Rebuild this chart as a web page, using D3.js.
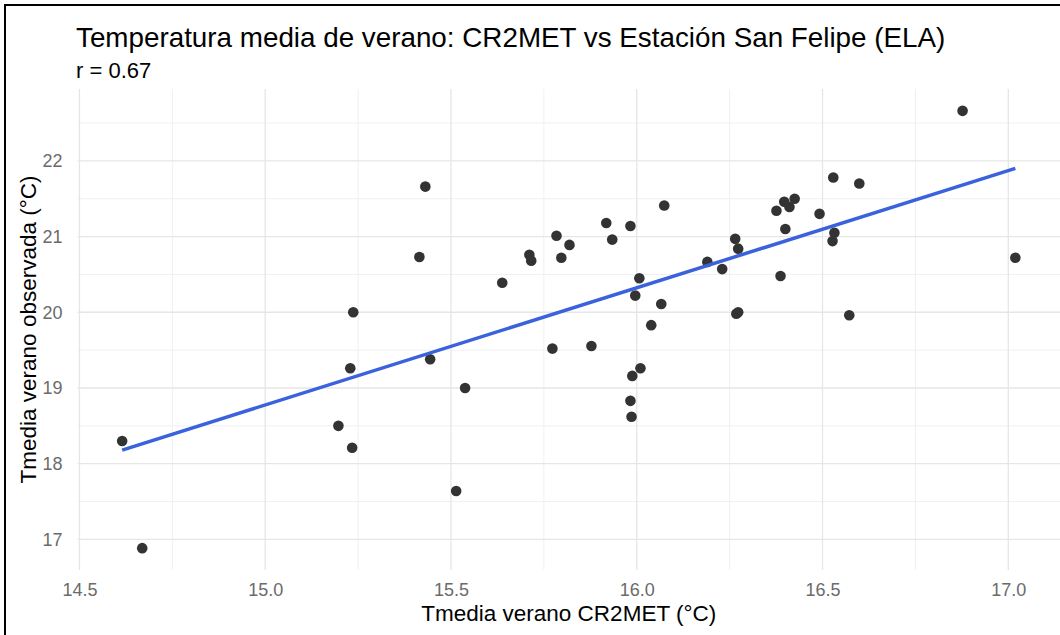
<!DOCTYPE html>
<html>
<head>
<meta charset="utf-8">
<script src="https://cdn.jsdelivr.net/npm/d3@7"></script>
<style>
  body { margin: 0; background: #fff; }
  svg { display: block; font-family: "Liberation Sans", Arial, sans-serif; }
</style>
</head>
<body>
<svg id="chart" width="1060" height="635"></svg>
<script>
// Tmedia verano CR2MET (x) vs observada (y)
const cr2met = [14.615, 14.669, 15.197, 15.229, 15.234, 15.237, 15.415, 15.431, 15.444, 15.514,
                15.538, 15.638, 15.711, 15.716, 15.773, 15.784, 15.797, 15.819, 15.878, 15.918,
                15.934, 15.983, 15.983, 15.986, 15.988, 15.996, 16.007, 16.010, 16.039, 16.066,
                16.074, 16.190, 16.230, 16.265, 16.273, 16.268, 16.273, 16.376, 16.387, 16.397,
                16.400, 16.411, 16.425, 16.492, 16.527, 16.529, 16.532, 16.572, 16.599, 16.877,
                17.019]
const observada = [18.30, 16.885, 18.50, 19.26, 18.21, 20.00, 20.73, 21.66, 19.38, 17.64,
                   19.00, 20.39, 20.76, 20.68, 19.52, 21.01, 20.72, 20.89, 19.555, 21.18,
                   20.96, 21.14, 18.83, 18.62, 19.16, 20.22, 20.45, 19.26, 19.83, 20.11,
                   21.41, 20.665, 20.57, 20.97, 20.84, 19.98, 20.00, 21.34, 20.48, 21.46,
                   21.10, 21.39, 21.50, 21.30, 20.94, 21.78, 21.05, 19.96, 21.70, 22.66,
                   20.72]
// geom_smooth(method = "lm") end points
const fitX = [14.615, 17.019]
const fitY = [18.18, 21.90]

const xBreaks = [14.5, 15.0, 15.5, 16.0, 16.5, 17.0]
const xMinor = [14.75, 15.25, 15.75, 16.25, 16.75]
const yBreaks = [17, 18, 19, 20, 21, 22]
const yMinor = [17.5, 18.5, 19.5, 20.5, 21.5, 22.5]

const title = "Temperatura media de verano: CR2MET vs Estación San Felipe (ELA)"
const subtitle = "r = 0.67"
const xTitle = "Tmedia verano CR2MET (°C)"
const yTitle = "Tmedia verano observada (°C)"

let svg = d3.select("#chart")
const panel = {left: 77.5, right: 1060, top: 89, bottom: 570}

// ggplot style 5% expansion
const expand = (ext) => { let p = (ext[1] - ext[0]) * 0.05; return [ext[0] - p, ext[1] + p] }

let x = d3.scaleLinear().domain(expand(d3.extent(cr2met))).range([panel.left, panel.right])
let y = d3.scaleLinear().domain(expand(d3.extent(observada))).range([panel.bottom, panel.top])

let grid = svg.append("g")
grid.selectAll(".xminor").data(xMinor).enter().append("line")
    .attr("x1", d => x(d)).attr("x2", d => x(d))
    .attr("y1", panel.top).attr("y2", panel.bottom)
    .style("stroke", "#f0f0f0").style("stroke-width", 1)
grid.selectAll(".yminor").data(yMinor).enter().append("line")
    .attr("y1", d => y(d)).attr("y2", d => y(d))
    .attr("x1", panel.left).attr("x2", panel.right)
    .style("stroke", "#f0f0f0").style("stroke-width", 1)
grid.selectAll(".xmajor").data(xBreaks).enter().append("line")
    .attr("x1", d => x(d)).attr("x2", d => x(d))
    .attr("y1", panel.top).attr("y2", panel.bottom)
    .style("stroke", "#e6e6e6").style("stroke-width", 1.3)
grid.selectAll(".ymajor").data(yBreaks).enter().append("line")
    .attr("y1", d => y(d)).attr("y2", d => y(d))
    .attr("x1", panel.left).attr("x2", panel.right)
    .style("stroke", "#e6e6e6").style("stroke-width", 1.3)

// axes (ticks hidden, theme_minimal)
let xAxis = svg.append("g")
    .attr("transform", "translate(0," + panel.bottom + ")")
    .call(d3.axisBottom(x).tickValues(xBreaks).tickFormat(d3.format(".1f")).tickSize(0).tickPadding(13))
let yAxis = svg.append("g")
    .attr("transform", "translate(" + panel.left + ",0)")
    .call(d3.axisLeft(y).tickValues(yBreaks).tickFormat(d3.format("d")).tickSize(0).tickPadding(15))
svg.selectAll(".domain").remove()
svg.selectAll(".tick text")
    .style("font", "18px 'Liberation Sans', Arial, sans-serif")
    .attr("fill", "#6b6b6b")

// points
svg.append("g").selectAll("circle")
    .data(cr2met.map((d, i) => ({x: d, y: observada[i]})))
    .enter().append("circle")
    .attr("cx", d => x(d.x))
    .attr("cy", d => y(d.y))
    .attr("r", 5.3)
    .attr("fill", "#333333")

// lm line
let line = d3.line().x(d => x(d[0])).y(d => y(d[1]))
svg.append("path")
    .datum(fitX.map((d, i) => [d, fitY[i]]))
    .attr("d", line)
    .style("fill", "none")
    .style("stroke", "#3A62DC")
    .style("stroke-width", 3.5)

// text
svg.append("text").attr("x", 76).attr("y", 47)
    .style("font-size", "27.8px").attr("fill", "#000").text(title)
svg.append("text").attr("x", 76).attr("y", 78)
    .style("font-size", "22px").attr("fill", "#000").text(subtitle)
svg.append("text").attr("x", (panel.left + panel.right) / 2).attr("y", 621)
    .attr("text-anchor", "middle").style("font-size", "22.5px").attr("fill", "#000").text(xTitle)
svg.append("text")
    .attr("transform", "translate(36," + (panel.top + panel.bottom) / 2 + ") rotate(-90)")
    .attr("text-anchor", "middle").style("font-size", "22.5px").attr("fill", "#000").text(yTitle)

// frame of the original screenshot
svg.append("rect").attr("x", 5).attr("y", 5).attr("width", 1100).attr("height", 700)
    .style("fill", "none").style("stroke", "#000").style("stroke-width", 2)
</script>
</body>
</html>
